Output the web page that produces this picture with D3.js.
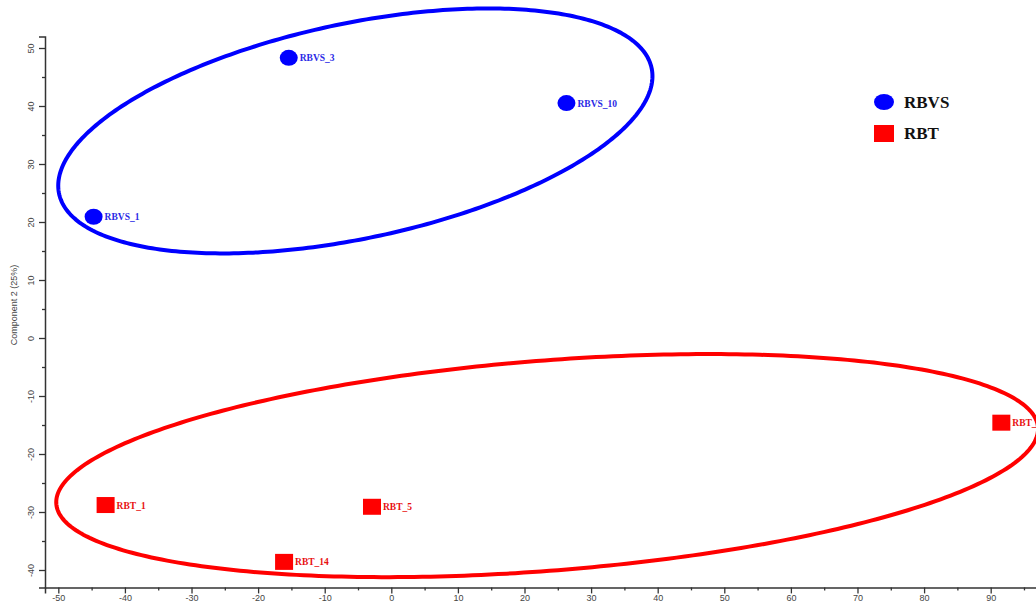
<!DOCTYPE html>
<html>
<head>
<meta charset="utf-8">
<script src="https://cdn.jsdelivr.net/npm/d3@7"></script>
<style>
  html, body { margin: 0; padding: 0; background: #fff; }
  svg { display: block; }
</style>
</head>
<body>
<svg id="chart" width="1036" height="604"></svg>
<script>
// PCA score plot: component 1 vs component 2
const groups = ["RBVS", "RBT"];
const groupColors = ["#0000ff", "#ff0000"];
const labelColors = ["#2a2ae6", "#e81010"];

const sampleNames = ["RBVS_1", "RBVS_3", "RBVS_10", "RBT_1", "RBT_5", "RBT_14", "RBT_2"];
const sampleGroup = ["RBVS", "RBVS", "RBVS", "RBT", "RBT", "RBT", "RBT"];
const comp1 = [-44.7, -15.4, 26.3, -42.9, -2.9, -16.1, 91.6];
const comp2 = [20.9, 48.3, 40.5, -28.8, -29.1, -38.6, -14.6];

// group confidence ellipses: centre, semi-axes (data units) and tilt (degrees)
const ellipseCx = [-5.4, 23.4];
const ellipseCy = [35.7, -22.0];
const ellipseA = [45.8, 74.0];
const ellipseB = [18.4, 18.1];
const ellipseAngle = [14.3, 5.2];

const xMajorTicks = d3.range(-50, 91, 10);
const xMinorTicks = d3.range(-45, 96, 10);
const yMajorTicks = d3.range(-40, 51, 10);
const yMinorTicks = d3.range(-35, 46, 10);
const yTitle = "Component 2 (25%)";

const svg = d3.select("#chart");
const x = d3.scaleLinear().domain([-52, 97]).range([45, 1037.3]);
const y = d3.scaleLinear().domain([-43, 52]).range([587.4, 36.4]);

const axisColor = "#333";
const tickFont = "'Liberation Sans', Arial, sans-serif";
const plainFormat = d => String(d);

// x axis
const xAxisG = svg.append("g").attr("transform", `translate(0,${y(-43)})`);
xAxisG.call(d3.axisBottom(x).tickValues(xMajorTicks).tickSize(6).tickPadding(1)
  .tickFormat(plainFormat));
xAxisG.append("g").call(d3.axisBottom(x).tickValues(xMinorTicks).tickSize(3).tickFormat(""))
  .select(".domain").remove();
xAxisG.selectAll(".domain").attr("stroke", axisColor).attr("stroke-width", 1.5);
xAxisG.selectAll(".tick line").attr("stroke", axisColor).attr("stroke-width", 1.3);
xAxisG.selectAll(".tick text").attr("fill", "#444").style("font-family", tickFont).style("font-size", "9px");

// y axis
const yAxisG = svg.append("g").attr("transform", `translate(${x(-52)},0)`);
yAxisG.call(d3.axisLeft(y).tickValues(yMajorTicks).tickSize(6).tickPadding(4)
  .tickFormat(plainFormat));
yAxisG.append("g").call(d3.axisLeft(y).tickValues(yMinorTicks).tickSize(3).tickFormat(""))
  .select(".domain").remove();
yAxisG.selectAll(".domain").attr("stroke", axisColor).attr("stroke-width", 1.5);
yAxisG.selectAll(".tick line").attr("stroke", axisColor).attr("stroke-width", 1.3);
yAxisG.selectAll(".tick text")
  .attr("fill", "#444").style("font-family", tickFont).style("font-size", "9px")
  .attr("text-anchor", "middle").attr("dy", null)
  .attr("transform", "translate(-14,0) rotate(-90)")
  .attr("x", 0).attr("y", 3);

svg.append("text")
  .attr("transform", `translate(17,${y(5.7)}) rotate(-90)`)
  .attr("text-anchor", "middle")
  .attr("fill", "#444")
  .style("font-family", tickFont).style("font-size", "9px")
  .text(yTitle);

// ellipses
const line = d3.line().x(d => x(d[0])).y(d => y(d[1])).curve(d3.curveLinearClosed);
groups.forEach((g, i) => {
  const th = ellipseAngle[i] * Math.PI / 180;
  const pts = d3.range(0, 360, 1).map(deg => {
    const t = deg * Math.PI / 180;
    const ex = ellipseA[i] * Math.cos(t), ey = ellipseB[i] * Math.sin(t);
    return [ellipseCx[i] + ex * Math.cos(th) - ey * Math.sin(th),
            ellipseCy[i] + ex * Math.sin(th) + ey * Math.cos(th)];
  });
  svg.append("path").attr("d", line(pts))
    .attr("fill", "none").attr("stroke", groupColors[i]).attr("stroke-width", 4);
});

// sample markers and labels
const samples = sampleNames.map((n, i) => ({ name: n, group: sampleGroup[i], x: comp1[i], y: comp2[i] }));
const gi = g => groups.indexOf(g);

svg.selectAll("ellipse.pt").data(samples.filter(d => d.group === "RBVS")).join("ellipse")
  .attr("class", "pt")
  .attr("cx", d => x(d.x)).attr("cy", d => y(d.y))
  .attr("rx", 9).attr("ry", 8)
  .attr("fill", groupColors[0]);

svg.selectAll("rect.pt").data(samples.filter(d => d.group === "RBT")).join("rect")
  .attr("class", "pt")
  .attr("x", d => x(d.x) - 9).attr("y", d => y(d.y) - 8)
  .attr("width", 18).attr("height", 16)
  .attr("fill", groupColors[1]);

svg.selectAll("text.lbl").data(samples).join("text")
  .attr("class", "lbl")
  .attr("x", d => x(d.x) + 11).attr("y", d => y(d.y) + 3.5)
  .attr("fill", d => labelColors[gi(d.group)])
  .style("font-family", "'Liberation Serif', 'Times New Roman', serif")
  .style("font-weight", "bold").style("font-size", "9.5px")
  .text(d => d.name);

// legend
const legend = svg.append("g").attr("transform", "translate(884,102)");
groups.forEach((g, i) => {
  const row = legend.append("g").attr("transform", `translate(0,${i * 31})`);
  if (i === 0) {
    row.append("ellipse").attr("rx", 10).attr("ry", 8).attr("fill", groupColors[i]);
  } else {
    row.append("rect").attr("x", -10).attr("y", -8).attr("width", 20).attr("height", 17).attr("fill", groupColors[i]);
  }
  row.append("text").attr("x", 20).attr("y", 6)
    .attr("fill", "#111")
    .style("font-family", "'Liberation Serif', 'Times New Roman', serif")
    .style("font-weight", "bold").style("font-size", "17px")
    .text(g);
});
</script>
</body>
</html>
